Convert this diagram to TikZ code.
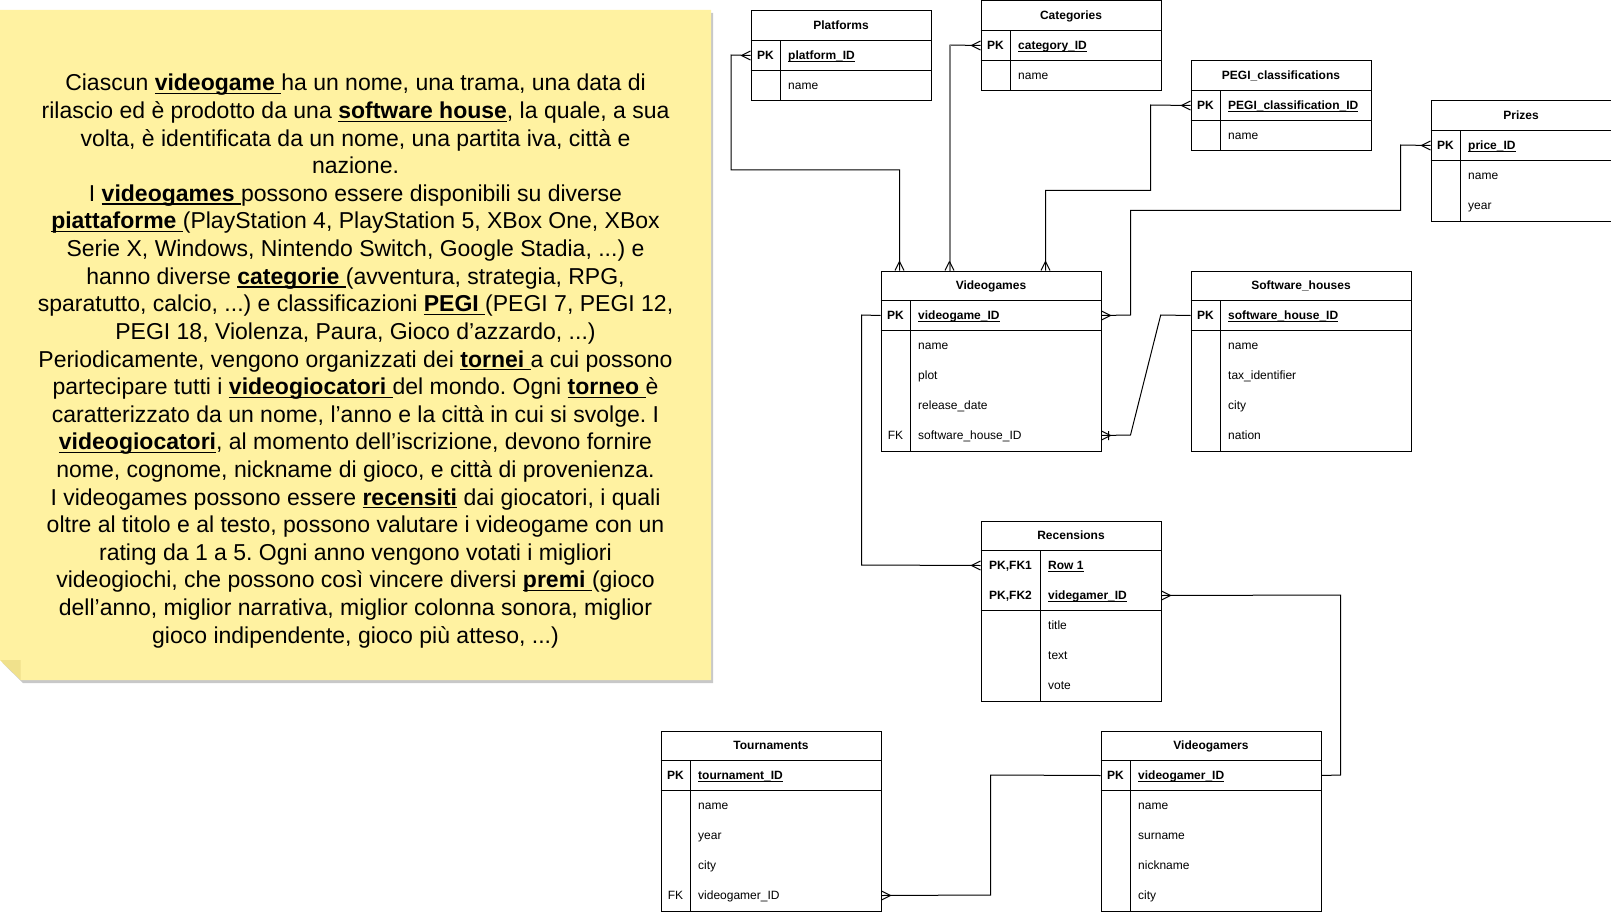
\documentclass[tikz,border=0pt]{standalone}
\usepackage{fontspec}
\setmainfont{Liberation Sans}
\usetikzlibrary{calc}
\frenchspacing

\definecolor{notefill}{RGB}{255,242,161}
\definecolor{notefold}{RGB}{240,225,140}
\definecolor{noteshadow}{RGB}{200,200,200}
\definecolor{selgray}{RGB}{128,128,128}

% bold, underlined keyword in the description
\newcommand\kw[1]{\setbox0\hbox{\bfseries #1}\rlap{\rule[-3.4pt]{\wd0}{1.3pt}}\box0\relax}
% bold, underlined primary-key field
\newcommand\pkul[1]{\setbox0\hbox{\bfseries #1}\rlap{\rule[-2pt]{\wd0}{0.9pt}}\box0\relax}
% one line of the description, placed by its line number
\newcommand\noteline[2]{\node[notetxt] (line#1) at (355.5,{91+27.6*(#1-1)}) {#2};}

\tikzset{
  tblbox/.style={draw, fill=white, line width=1pt, inner sep=0, anchor=north west},
  tline/.style={line width=1pt},
  ttl/.style={font=\bfseries\fontsize{12}{14}\selectfont, inner sep=0, anchor=base},
  pkrow/.style={font=\bfseries\fontsize{12}{14}\selectfont, inner sep=0},
  row/.style={font=\fontsize{12}{14}\selectfont, inner sep=0},
  rel/.style={draw, line width=1pt, line join=miter},
  selrel/.style={draw=selgray, line width=2pt},
  notetxt/.style={font=\fontsize{23}{27.6}\selectfont, inner sep=0, anchor=base},
  many/.pic={\draw[rel] (9,0) -- (0,4.5) (9,0) -- (0,-4.5);},
  onemany/.pic={\draw[rel] (9,0) -- (0,4.5) (9,0) -- (0,-4.5) (7,-4.5) -- (7,4.5);},
}

% #1 id, #2 left, #3 top, #4 width, #5 key column width, #6 height,
% #7 primary-key rows, #8 title, #9 rows key/field/style
\newcommand\ertable[9]{%
  \node[tblbox, minimum width=#4pt, minimum height=#6pt] (#1) at (#2,#3) {};
  \draw[tline] ($(#1.north west)+(0,30)$) -- ($(#1.north east)+(0,30)$);
  \draw[tline] ($(#1.north west)+(0,{30+30*#7})$) -- ($(#1.north east)+(0,{30+30*#7})$);
  \draw[tline] ($(#1.north west)+(#5,30)$) -- ($(#1.south west)+(#5,0)$);
  \node[ttl] (#1-t) at ($(#1.north)+(0,19.3)$) {#8};
  \foreach[count=\i] \k/\f/\s in {#9} {
    \coordinate (#1-r\i) at ($(#1.north west)+(0,{30*\i+15})$);
    \node[\s, anchor=base] (#1-k\i) at ($(#1.north west)+({#5/2},{30*\i+19.3})$) {\k};
    \node[\s, anchor=base west] (#1-f\i) at ($(#1.north west)+({#5+7.5},{30*\i+19.3})$) {\f};
  }
}

\begin{document}
\begin{tikzpicture}[x=1pt, y=-1pt]
\useasboundingbox (0,0) rectangle (1611,912);

% sticky note with folded corner
\fill[noteshadow] (2.5,13) -- (713,13) -- (713,683) -- (23,683) -- (2.5,663) -- cycle;
\fill[notefill] (0,10) -- (711,10) -- (711,680) -- (20.7,680) -- (0,660) -- cycle;
\fill[notefold] (0,660) -- (20.7,660) -- (20.7,680) -- cycle;

\noteline{1}{Ciascun \kw{videogame }ha un nome, una trama, una data di}
\noteline{2}{rilascio ed è prodotto da una \kw{software house}, la quale, a sua}
\noteline{3}{volta, è identificata da un nome, una partita iva, città e}
\noteline{4}{nazione.}
\noteline{5}{I \kw{videogames }possono essere disponibili su diverse}
\noteline{6}{\kw{piattaforme }(PlayStation 4, PlayStation 5, XBox One, XBox}
\noteline{7}{Serie X, Windows, Nintendo Switch, Google Stadia, ...) e}
\noteline{8}{hanno diverse \kw{categorie }(avventura, strategia, RPG,}
\noteline{9}{sparatutto, calcio, ...) e classificazioni \kw{PEGI }(PEGI 7, PEGI 12,}
\noteline{10}{PEGI 18, Violenza, Paura, Gioco d’azzardo, ...)}
\noteline{11}{Periodicamente, vengono organizzati dei \kw{tornei }a cui possono}
\noteline{12}{partecipare tutti i \kw{videogiocatori }del mondo. Ogni \kw{torneo }è}
\noteline{13}{caratterizzato da un nome, l’anno e la città in cui si svolge. I}
\noteline{14}{\kw{videogiocatori}, al momento dell’iscrizione, devono fornire}
\noteline{15}{nome, cognome, nickname di gioco, e città di provenienza.}
\noteline{16}{I videogames possono essere \kw{recensiti} dai giocatori, i quali}
\noteline{17}{oltre al titolo e al testo, possono valutare i videogame con un}
\noteline{18}{rating da 1 a 5. Ogni anno vengono votati i migliori}
\noteline{19}{videogiochi, che possono così vincere diversi \kw{premi }(gioco}
\noteline{20}{dell’anno, miglior narrativa, miglior colonna sonora, miglior}
\noteline{21}{gioco indipendente, gioco più atteso, ...)}

% entity tables
\ertable{plat}{750.5}{10.5}{180}{30}{90}{1}{Platforms}
  {PK/\pkul{platform\_ID}/pkrow, {}/name/row}
\ertable{cat}{980.5}{0.5}{180}{30}{90}{1}{Categories}
  {PK/\pkul{category\_ID}/pkrow, {}/name/row}
\ertable{pegi}{1190.5}{60.5}{180}{30}{90}{1}{PEGI\_classifications}
  {PK/\pkul{PEGI\_classification\_ID}/pkrow, {}/name/row}
\ertable{prz}{1430.5}{100.5}{180}{30}{120}{1}{Prizes}
  {PK/\pkul{price\_ID}/pkrow, {}/name/row, {}/year/row}
\ertable{vg}{880.5}{270.5}{220}{30}{180}{1}{Videogames}
  {PK/\pkul{videogame\_ID}/pkrow, {}/name/row, {}/plot/row, {}/release\_date/row, FK/software\_house\_ID/row}
\ertable{sh}{1190.5}{270.5}{220}{30}{180}{1}{Software\_houses}
  {PK/\pkul{software\_house\_ID}/pkrow, {}/name/row, {}/tax\_identifier/row, {}/city/row, {}/nation/row}
\ertable{rec}{980.5}{520.5}{180}{60}{180}{2}{Recensions}
  {{PK,FK1}/\pkul{Row 1}/pkrow, {PK,FK2}/\pkul{videgamer\_ID}/pkrow, {}/title/row, {}/text/row, {}/vote/row}
\ertable{tor}{660.5}{730.5}{220}{30}{180}{1}{Tournaments}
  {PK/\pkul{tournament\_ID}/pkrow, {}/name/row, {}/year/row, {}/city/row, FK/videogamer\_ID/row}
\ertable{vgr}{1100.5}{730.5}{220}{30}{180}{1}{Videogamers}
  {PK/\pkul{videogamer\_ID}/pkrow, {}/name/row, {}/surname/row, {}/nickname/row, {}/city/row}

% relationships
\draw[rel] (plat.west |- plat-r1) -- (731,55) -- (731,170) -- (899.5,170) -- (899.5,0 |- vg.north);
\pic[rotate=180] at (plat.west |- plat-r1) {many};
\pic[rotate=90] at (899.5,0 |- vg.north) {many};

\draw[rel] (cat.west |- cat-r1) -- (949.5,45);
\draw[selrel] (949.5,45) -- (949.5,0 |- vg.north);
\pic[rotate=180] at (cat.west |- cat-r1) {many};
\pic[rotate=90] at (949.5,0 |- vg.north) {many};

\draw[rel] (pegi.west |- pegi-r1) -- (1150.5,105) -- (1150.5,190.5) -- (1045.5,190.5) -- (1045.5,0 |- vg.north);
\pic[rotate=180] at (pegi.west |- pegi-r1) {many};
\pic[rotate=90] at (1045.5,0 |- vg.north) {many};

\draw[rel] (prz.west |- prz-r1) -- (1400.5,145) -- (1400.5,210.5) -- (1130.5,210.5) -- (1130.5,315) -- (vg.east |- vg-r1);
\pic[rotate=180] at (prz.west |- prz-r1) {many};
\pic at (vg.east |- vg-r1) {many};

\draw[rel] (sh.west |- sh-r1) -- (1160.7,315) -- (1130.5,435) -- (vg.east |- vg-r5);
\pic at (vg.east |- vg-r5) {onemany};

\draw[rel] (vg.west |- vg-r1) -- (861.5,315) -- (861.5,565) -- (rec.west |- rec-r1);
\pic[rotate=180] at (rec.west |- rec-r1) {many};

\draw[rel] (rec.east |- rec-r2) -- (1340.5,595) -- (1340.5,775) -- (vgr.east |- vgr-r1);
\pic at (rec.east |- rec-r2) {many};

\draw[rel] (tor.east |- tor-r5) -- (990.5,895) -- (990.5,775) -- (vgr.west |- vgr-r1);
\pic at (tor.east |- tor-r5) {many};

\end{tikzpicture}
\end{document}
